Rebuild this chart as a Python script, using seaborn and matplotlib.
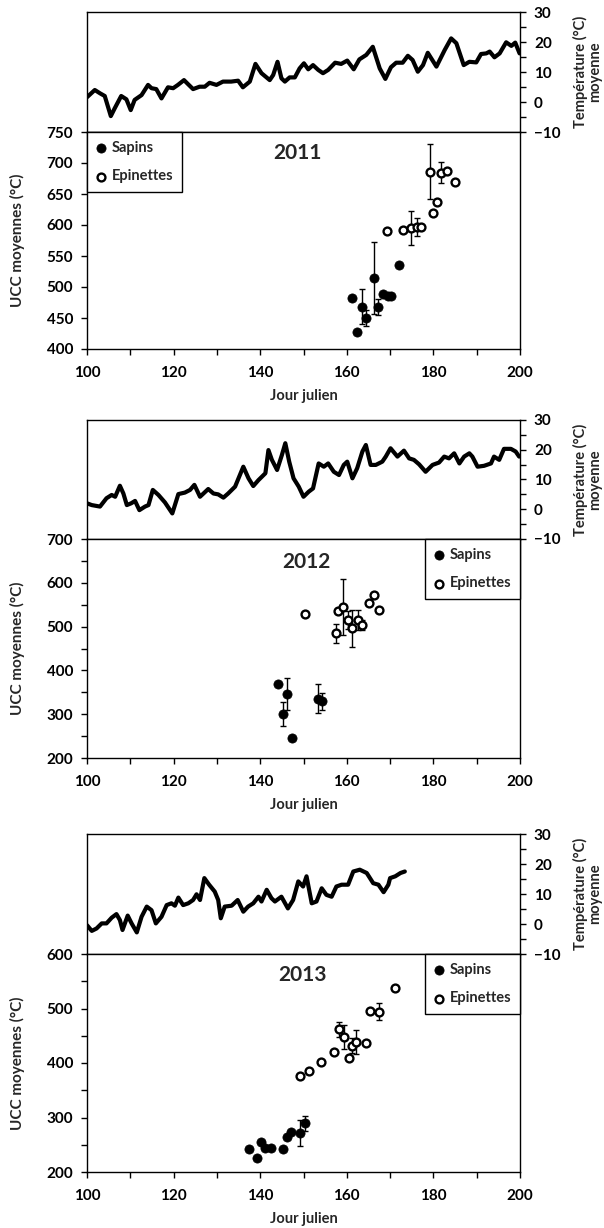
import matplotlib
matplotlib.use("Agg")
import matplotlib.pyplot as plt
import seaborn as sns
import numpy as np
from matplotlib.ticker import MultipleLocator

# ---------------- data ----------------
years = ["2011", "2012", "2013"]

temp_day_2011 = [100, 101.8, 103, 104.1, 105.5, 106.4, 107.9, 109.1, 110.1, 111, 112.6, 114.1, 114.9, 116,
                 117.2, 118.7, 119.9, 121, 122.4, 123.3, 124.5, 126, 127.2, 128.3, 129.9, 131.4, 133.3,
                 134.9, 136, 137.6, 138.9, 140.3, 142.2, 143, 144, 144.9, 145.7, 146.8, 148, 149.1, 150.1,
                 151.1, 152.2, 153.4, 154.5, 155.7, 157.3, 158.7, 160.1, 161.6, 162.9, 164.5, 166, 167.6,
                 168.9, 170.2, 171.4, 172.9, 174.1, 175.2, 176.4, 177.6, 178.7, 180.7, 182.6, 184.1, 185.3,
                 187, 188.3, 189.9, 191, 192.2, 193, 194.1, 195.3, 196.8, 198, 198.9, 199.9]
temp_val_2011 = [1.6, 4.0, 2.9, 2.0, -4.7, -2.1, 2.0, 0.9, -2.7, 0.7, 2.3, 5.7, 4.6, 4.3, 1.2, 4.9, 4.6, 5.7,
                 7.3, 6.0, 4.3, 5.1, 5.1, 6.4, 5.7, 6.8, 6.8, 7.1, 4.9, 6.8, 12.7, 9.6, 7.3, 9.0, 13.4, 7.9,
                 6.8, 8.2, 8.2, 11.2, 12.9, 10.9, 12.3, 10.7, 9.6, 10.7, 13.1, 12.7, 13.8, 10.9, 14.2, 15.7,
                 18.4, 11.2, 7.7, 11.6, 13.1, 13.1, 15.4, 14.0, 10.1, 12.3, 16.4, 11.8, 17.3, 21.2, 19.6,
                 12.3, 13.4, 13.2, 16.0, 16.2, 16.8, 14.9, 16.2, 19.9, 18.7, 19.8, 16.2]

temp_day_2012 = [100, 101.1, 103, 104.5, 105.7, 106.5, 107.6, 108.4, 109.2, 110.2, 111.1, 112.1, 113.4, 114.2,
                 115.2, 116.5, 118, 119.7, 121.1, 122.6, 123.8, 124.8, 126.1, 128, 129.2, 130.3, 131.5,
                 132.6, 134.2, 136.1, 137.3, 138.4, 139.6, 141.2, 141.9, 142.7, 143.9, 145, 145.8, 146.7,
                 147.7, 148.9, 150, 151.2, 152.2, 153.5, 154.7, 155.7, 157, 158.2, 159.3, 160.1, 161.3,
                 162.4, 163.6, 164.4, 165.5, 166.7, 168.2, 169, 170.1, 171.7, 173.2, 174.4, 175.5, 176.7,
                 178.2, 179.8, 181.3, 182.5, 183.6, 184.8, 186, 187.1, 188.3, 189, 190.2, 191.7, 193.3,
                 194, 195.2, 196.3, 197.9, 199, 199.8]
temp_val_2012 = [2.0, 1.4, 0.9, 3.7, 4.8, 4.2, 7.9, 5.3, 1.4, 2.0, 2.8, -0.3, 0.9, 1.4, 6.5, 4.8, 2.3, -1.4,
                 5.1, 5.6, 6.5, 8.2, 4.2, 6.8, 5.3, 5.0, 3.9, 5.3, 7.6, 14.3, 10.4, 7.8, 9.8, 12.1, 19.9,
                 16.6, 13.2, 18.2, 22.2, 16.0, 10.4, 7.6, 4.2, 5.9, 7.0, 15.4, 14.3, 15.4, 12.6, 11.5, 14.9,
                 16.0, 10.4, 13.8, 19.4, 21.6, 14.9, 14.9, 16.0, 17.7, 20.5, 17.7, 19.7, 17.1, 16.6, 15.1,
                 12.6, 14.9, 15.7, 17.7, 17.1, 18.8, 15.4, 17.7, 18.8, 17.7, 14.3, 14.6, 15.4, 17.7, 16.6,
                 20.3, 20.3, 19.4, 17.7]

temp_day_2013 = [100, 101.1, 102.2, 103.4, 104.5, 105.7, 106.8, 107.6, 108.2, 109.4, 110.3, 111.5, 112.6,
                 113.8, 114.9, 115.9, 117.2, 118.4, 119.5, 120.3, 121.1, 122.2, 123.4, 124.5, 125.3, 126.1,
                 127.1, 128.2, 129.5, 130.3, 130.9, 131.8, 133.4, 134.8, 136.1, 137.2, 138.4, 139.6, 140.3,
                 141.5, 142.6, 143.4, 144.9, 146.4, 147.6, 148.8, 149.9, 150.7, 151.9, 153, 154.2, 155.3,
                 156.5, 157.6, 158.8, 160.3, 161.5, 163, 164.6, 166.1, 167.3, 168.5, 169.6, 170, 171.2,
                 172.4, 173.4]
temp_val_2013 = [-0.4, -2.3, -1.5, 0.2, 0.2, 2.1, 3.3, 1.3, -2.0, 2.8, 0.2, -2.8, 2.4, 5.8, 4.6, 0.2, 2.4,
                 6.3, 6.9, 6.1, 8.8, 6.3, 6.9, 8.0, 9.9, 8.0, 15.3, 13.1, 10.8, 8.0, 1.9, 5.8, 6.1, 8.0, 4.1,
                 5.8, 6.9, 9.1, 7.5, 11.4, 8.6, 7.5, 9.1, 5.2, 8.0, 14.2, 12.5, 15.9, 6.9, 7.5, 11.9, 9.7,
                 9.1, 12.5, 13.1, 13.1, 17.5, 18.1, 17.0, 13.6, 13.1, 10.6, 13.1, 15.3, 15.9, 17.0, 17.5]

sapins_day_2011 = [161.1, 162.3, 163.4, 164.4, 166.3, 167.1, 168.3, 169.4, 170.2, 172.1]
sapins_ucc_2011 = [482, 427, 468, 450, 514, 468, 489, 485, 485, 535]
sapins_err_2011 = [0, 0, 28, 13, 58, 13, 0, 0, 0, 0]
epin_day_2011 = [169.2, 173.0, 174.8, 176.1, 177.1, 179.1, 180.0, 180.9, 181.8, 183.1, 185.1]
epin_ucc_2011 = [591, 592, 595, 597, 597, 686, 620, 637, 684, 687, 670]
epin_err_2011 = [0, 0, 28, 15, 0, 44, 0, 0, 17, 0, 0]

sapins_day_2012 = [144.2, 145.3, 146.2, 147.3, 153.3, 154.3]
sapins_ucc_2012 = [368, 300, 346, 245, 335, 329]
sapins_err_2012 = [0, 28, 36, 0, 33, 19]
epin_day_2012 = [150.4, 157.4, 158.0, 159.2, 160.3, 161.3, 162.5, 163.6, 165.2, 166.3, 167.4]
epin_ucc_2012 = [528, 485, 535, 544, 515, 496, 515, 504, 554, 572, 538]
epin_err_2012 = [0, 22, 0, 64, 20, 42, 23, 12, 0, 0, 0]

sapins_day_2013 = [137.4, 139.2, 140.3, 141.2, 142.4, 145.2, 146.1, 147.2, 149.2, 150.3]
sapins_ucc_2013 = [242, 226, 255, 244, 244, 243, 264, 274, 272, 289]
sapins_err_2013 = [0, 0, 0, 0, 0, 0, 0, 0, 24, 14]
epin_day_2013 = [149.2, 151.2, 154.1, 157.1, 158.3, 159.3, 160.4, 161.3, 162.2, 164.4, 165.3, 167.5, 171.2]
epin_ucc_2013 = [376, 385, 402, 420, 462, 448, 410, 432, 438, 436, 495, 494, 538]
epin_err_2013 = [0, 0, 0, 0, 14, 22, 0, 14, 22, 0, 0, 16, 0]

ucc_limits = [(400, 750), (200, 700), (200, 600)]
ucc_major = [50, 100, 100]
ucc_minor = [50, 50, 50]
legend_locs = ["upper left", "upper right", "upper right"]

temps = [(temp_day_2011, temp_val_2011), (temp_day_2012, temp_val_2012), (temp_day_2013, temp_val_2013)]
sapins = [(sapins_day_2011, sapins_ucc_2011, sapins_err_2011),
          (sapins_day_2012, sapins_ucc_2012, sapins_err_2012),
          (sapins_day_2013, sapins_ucc_2013, sapins_err_2013)]
epins = [(epin_day_2011, epin_ucc_2011, epin_err_2011),
         (epin_day_2012, epin_ucc_2012, epin_err_2012),
         (epin_day_2013, epin_ucc_2013, epin_err_2013)]

# ---------------- style ----------------
sns.set_style("ticks")
plt.rcParams["font.family"] = ["Lato", "DejaVu Sans"]
plt.rcParams["font.weight"] = "bold"
plt.rcParams["axes.labelweight"] = "bold"
plt.rcParams["axes.linewidth"] = 1.0
plt.rcParams["axes.edgecolor"] = "black"
plt.rcParams["legend.fancybox"] = False
plt.rcParams["legend.framealpha"] = 1
plt.rcParams["legend.edgecolor"] = "black"

W_PX, H_PX = 604, 1228
fig = plt.figure(figsize=(W_PX / 100, H_PX / 100), dpi=100)

left_px, right_px = 87, 520
layout = [(12, 132, 349), (420, 539, 758), (834, 954, 1172)]
title_pos = [(0.487, 0.903), (0.506, 0.895), (0.497, 0.904)]

L = left_px / W_PX
Wd = (right_px - left_px) / W_PX


def tick_style(ax):
    ax.tick_params(which="both", direction="out", length=4, width=1, colors="black",
                   labelsize=11, pad=6)


for i in range(3):
    top, mid, bot = layout[i]
    ax_t = fig.add_axes([L, 1 - mid / H_PX, Wd, (mid - top) / H_PX])
    ax_b = fig.add_axes([L, 1 - bot / H_PX, Wd, (bot - mid) / H_PX])

    # temperature
    d, t = temps[i]
    sns.lineplot(x=d, y=t, ax=ax_t, color="black", linewidth=3.0, sort=False)
    for l in ax_t.get_lines():
        l.set_solid_joinstyle("round")
        l.set_solid_capstyle("round")
    ax_t.set_xlim(100, 200)
    ax_t.set_ylim(-10, 30)
    ax_t.yaxis.tick_right()
    ax_t.set_yticks([-10, 0, 10, 20, 30])
    ax_t.yaxis.set_minor_locator(MultipleLocator(5))
    tick_style(ax_t)
    ax_t.tick_params(axis="x", which="both", bottom=False, top=False, labelbottom=False)
    ax_t.tick_params(axis="y", which="both", left=False, right=True, labelleft=False, labelright=True)
    ax_t.set_xlabel("")
    ax_t.set_ylabel("")
    ax_t.text(1.155, 0.5, "Température (°C)\nmoyenne", rotation=90, transform=ax_t.transAxes,
              ha="center", va="center", fontsize=10.5, fontweight="bold", linespacing=1.0,
              multialignment="center")

    # UCC
    sd, su, se = sapins[i]
    ed, eu, ee = epins[i]
    sx = [x for x, e in zip(sd, se) if e > 0]
    sy = [y for y, e in zip(su, se) if e > 0]
    sey = [e for e in se if e > 0]
    ex = [x for x, e in zip(ed, ee) if e > 0]
    ey = [y for y, e in zip(eu, ee) if e > 0]
    eey = [e for e in ee if e > 0]
    ax_b.errorbar(sx, sy, yerr=sey, fmt="none", ecolor="black", elinewidth=1, capsize=2, capthick=1)
    ax_b.errorbar(ex, ey, yerr=eey, fmt="none", ecolor="black", elinewidth=1, capsize=2, capthick=1)
    sns.scatterplot(x=sd, y=su, ax=ax_b, marker="o", s=44, color="black", edgecolor="black",
                    linewidth=0.5, label="Sapins", zorder=3)
    sns.scatterplot(x=ed, y=eu, ax=ax_b, marker="o", s=32, color="white", edgecolor="black",
                    linewidth=1.7, label="Epinettes", zorder=3)
    ax_b.set_xlim(100, 200)
    ax_b.set_ylim(*ucc_limits[i])
    ax_b.xaxis.set_major_locator(MultipleLocator(20))
    ax_b.xaxis.set_minor_locator(MultipleLocator(10))
    ax_b.yaxis.set_major_locator(MultipleLocator(ucc_major[i]))
    ax_b.yaxis.set_minor_locator(MultipleLocator(ucc_minor[i]))
    tick_style(ax_b)
    ax_b.tick_params(axis="x", pad=8)
    ax_b.set_ylabel("UCC moyennes (°C)", fontsize=11, fontweight="bold")
    ax_b.yaxis.set_label_coords(-0.143, 0.5)
    ax_b.set_xlabel("Jour julien", fontsize=10.5, fontweight="bold", labelpad=7)
    tx, ty = title_pos[i]
    ax_b.text(tx, ty, years[i], transform=ax_b.transAxes, ha="center", va="center",
              fontsize=15, fontweight="bold")
    leg = ax_b.legend(loc=legend_locs[i], borderaxespad=0, fontsize=10.5, labelspacing=1.0,
                      handlelength=0.7, handletextpad=0.4, borderpad=0.6)
    leg.get_frame().set_linewidth(1.0)
    for txt in leg.get_texts():
        txt.set_fontweight("bold")

fig.savefig("out.png", dpi=100)
